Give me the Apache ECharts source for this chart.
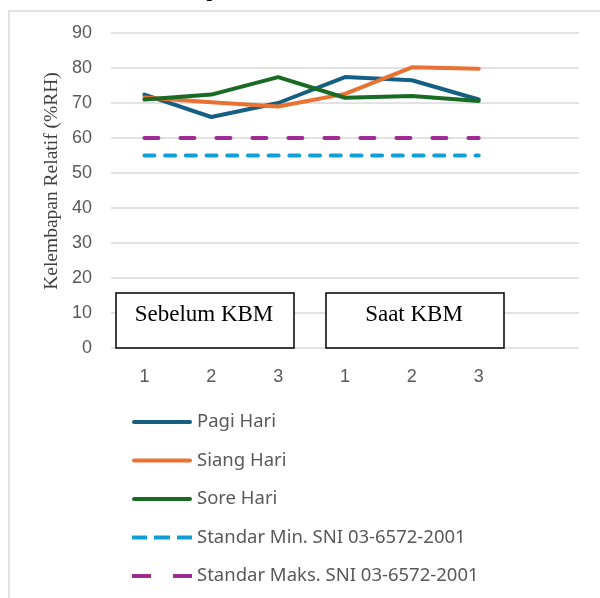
<!DOCTYPE html>
<html>
<head>
<meta charset="utf-8">
<script src="https://cdn.jsdelivr.net/npm/echarts@6/dist/echarts.min.js"></script>
<style>
html,body{margin:0;padding:0;background:#fff;}
#c{width:600px;height:598px;}
</style>
</head>
<body>
<div id="c"></div>
<script>
const categories = ['1', '2', '3', '1', '2', '3', ''];
const pagiHari  = [72.4, 66.0, 70.0, 77.4, 76.5, 71.0, null];
const siangHari = [71.6, 70.2, 69.0, 72.6, 80.2, 79.8, null];
const soreHari  = [71.0, 72.4, 77.4, 71.5, 72.0, 70.6, null];
const standarMin  = [55, 55, 55, 55, 55, 55, null];
const standarMaks = [60, 60, 60, 60, 60, 60, null];
const seriesNames = ['Pagi Hari', 'Siang Hari', 'Sore Hari', 'Standar Min. SNI 03-6572-2001', 'Standar Maks. SNI 03-6572-2001'];
const yTitle = 'Kelembapan Relatif (%RH)';
const groupLabels = ['Sebelum KBM', 'Saat KBM'];

const chart = echarts.init(document.getElementById('c'), null, {renderer: 'canvas'});
const gray = '#595959';

function lineSeries(name, data, color, type) {
  return {
    name: name, type: 'line', data: data, symbol: 'none', silent: true,
    lineStyle: {color: color, width: 4, type: type, cap: 'round', join: 'round'},
    itemStyle: {color: color},
    z: 3
  };
}

const solidIcon = 'path://M2,0h56a2,2 0 0 1 0,4h-56a2,2 0 0 1 0,-4z';
const minIcon = 'path://M0,0h15v4h-15z M22,0h16v4h-16z M45,0h15v4h-15z';
const maksIcon = 'path://M0,0h19v4h-19z M41,0h19v4h-19z';
const legendIcons = [solidIcon, solidIcon, solidIcon, minIcon, maksIcon];

chart.setOption({
  animation: false,
  backgroundColor: '#fff',
  grid: {left: 111, right: 21, top: 33, bottom: 250},
  xAxis: {
    type: 'category', data: categories, boundaryGap: true,
    axisLine: {show: false}, axisTick: {show: false},
    axisLabel: {color: gray, fontSize: 18, fontFamily: 'Liberation Sans, Arial', margin: 20}
  },
  yAxis: {
    type: 'value', min: 0, max: 90, interval: 10,
    axisLine: {show: false}, axisTick: {show: false},
    axisLabel: {color: gray, fontSize: 18, fontFamily: 'Liberation Sans, Arial', margin: 19},
    splitLine: {lineStyle: {color: '#d9d9d9', width: 1.5}}
  },
  legend: {
    orient: 'vertical', left: 127, top: 407,
    itemWidth: 60, itemHeight: 4, itemGap: 18.5,
    textStyle: {color: gray, fontSize: 18.5, lineHeight: 20, fontFamily: 'Noto Sans'},
    data: seriesNames.map((n, i) => ({name: n, icon: legendIcons[i]}))
  },
  series: [
    lineSeries(seriesNames[0], pagiHari, '#156082', 'solid'),
    lineSeries(seriesNames[1], siangHari, '#E97132', 'solid'),
    lineSeries(seriesNames[2], soreHari, '#196B24', 'solid'),
    lineSeries(seriesNames[3], standarMin, '#0F9ED5', [10, 10.7]),
    lineSeries(seriesNames[4], standarMaks, '#A02B93', [14, 22])
  ],
  graphic: [
    {type: 'rect', shape: {x: 9, y: 11, width: 700, height: 700}, style: {fill: 'none', stroke: '#d9d9d9', lineWidth: 1.5}, z: 0, silent: true},
    {type: 'text', x: 212, y: -9, style: {text: 'p', font: 'bold 20px "Liberation Serif"', fill: '#000', textAlign: 'center', textVerticalAlign: 'middle'}, silent: true},
    {type: 'text', x: 52, y: 181, rotation: Math.PI / 2, style: {text: yTitle, font: '19.5px "Liberation Serif"', fill: '#404040', textAlign: 'center', textVerticalAlign: 'middle'}, silent: true},
    {type: 'rect', shape: {x: 116, y: 293, width: 178, height: 55}, style: {fill: '#fff', stroke: '#000', lineWidth: 1.5}, z: 10, silent: true},
    {type: 'text', x: 204, y: 315, style: {text: groupLabels[0], font: '23px "Liberation Serif"', fill: '#000', textAlign: 'center', textVerticalAlign: 'middle'}, z: 11, silent: true},
    {type: 'rect', shape: {x: 326, y: 293, width: 178, height: 55}, style: {fill: '#fff', stroke: '#000', lineWidth: 1.5}, z: 10, silent: true},
    {type: 'text', x: 414, y: 315, style: {text: groupLabels[1], font: '23px "Liberation Serif"', fill: '#000', textAlign: 'center', textVerticalAlign: 'middle'}, z: 11, silent: true}
  ]
});
</script>
</body>
</html>
